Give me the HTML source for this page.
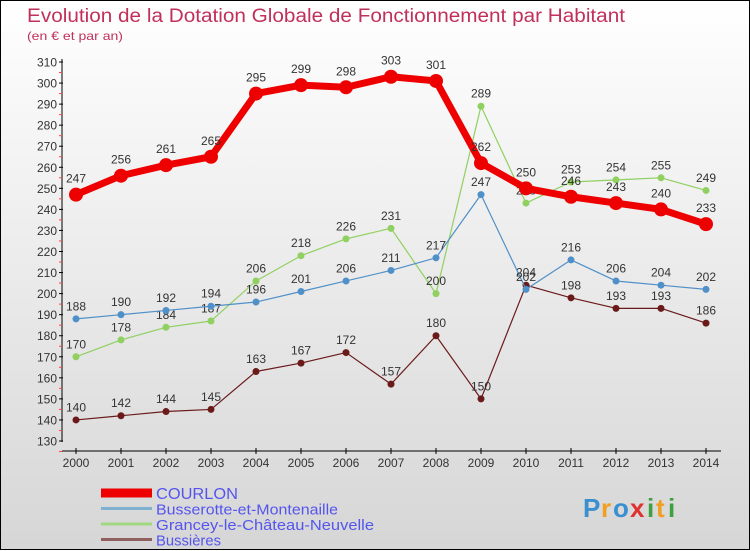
<!DOCTYPE html>
<html><head><meta charset="utf-8"><style>
html,body{margin:0;padding:0}
body{width:750px;height:550px;overflow:hidden;font-family:"Liberation Sans",sans-serif}
#wrap{position:relative;width:748px;height:548px;border:1px solid #000;background:linear-gradient(#ffffff,#d6d6d6)}
svg{position:absolute;left:0;top:0}
</style></head><body>
<div id="wrap">
<svg id="chart" width="750" height="550">
<text x="26" y="21" font-size="19" fill="#c0305a" textLength="598" lengthAdjust="spacingAndGlyphs">Evolution de la Dotation Globale de Fonctionnement par Habitant</text>
<text x="26" y="39" font-size="12" fill="#c0305a" textLength="96" lengthAdjust="spacingAndGlyphs">(en € et par an)</text>
<g id="axes"></g><g id="series"></g><g id="legend"></g>
<g font-size="26" font-weight="bold">
<text x="582" y="516" fill="#3a8fd0">P</text><text x="600" y="516" fill="#f0a020">r</text><text x="612" y="516" fill="#3a8fd0">o</text><text x="629" y="516" fill="#e03030">x</text><text x="646" y="516" fill="#40a040">i</text><text x="655" y="516" fill="#f0a020">t</text><text x="667" y="516" fill="#40a040">i</text>
</g>
</svg>
</div>
<script>
const years=[2000,2001,2002,2003,2004,2005,2006,2007,2008,2009,2010,2011,2012,2013,2014];
const yTicks=[130,140,150,160,170,180,190,200,210,220,230,240,250,260,270,280,290,300,310];
const seriesNames=["COURLON","Busserotte-et-Montenaille","Grancey-le-Château-Neuvelle","Bussières"];
const courlon=[247,256,261,265,295,299,298,303,301,262,250,246,243,240,233];
const busserotte=[188,190,192,194,196,201,206,211,217,247,202,216,206,204,202];
const grancey=[170,178,184,187,206,218,226,231,200,289,243,253,254,255,249];
const bussieres=[140,142,144,145,163,167,172,157,180,150,204,198,193,193,186];
const NS="http://www.w3.org/2000/svg";
const xS=i=>75+i*45;
const yS=v=>440-(v-130)*(379/180);
function mk(tag,attrs,parent){const e=document.createElementNS(NS,tag);for(const k in attrs)e.setAttribute(k,attrs[k]);parent.appendChild(e);return e;}
const ax=document.getElementById('axes');
let l=mk('line',{x1:61,y1:58,x2:61,y2:441,stroke:'#000','stroke-width':1},ax);


l=mk('line',{x1:61,y1:450,x2:720,y2:450,stroke:'#000','stroke-width':1},ax);


yTicks.forEach(v=>{
  const y=yS(v);
  mk('line',{x1:58,y1:y,x2:62,y2:y,stroke:'#000'},ax);
  mk('line',{x1:58,y1:y+10.5,x2:61,y2:y+10.5,stroke:'#f44'},ax);
  const t=mk('text',{x:56,y:y+4.5,'font-size':12,fill:'#333','text-anchor':'end'},ax);
  t.textContent=v;
  
  
});
years.forEach((yr,i)=>{
  const x=xS(i);
  mk('line',{x1:x,y1:447,x2:x,y2:453,stroke:'#000'},ax);
  const t=mk('text',{x:x,y:466,'font-size':12,fill:'#333','text-anchor':'middle'},ax);
  t.textContent=yr;
  
  
});
const sg=document.getElementById('series');
const defs=[
 {d:bussieres,c:'#6b1a1a',w:1.2,r:3.5,name:'series-bussieres'},
 {d:grancey,c:'#90d060',w:1.2,r:3.5,name:'series-grancey'},
 {d:busserotte,c:'#5090c8',w:1.2,r:3.5,name:'series-busserotte'},
 {d:courlon,c:'#ee0000',w:7,r:7,name:'series-courlon'}
];
defs.forEach(s=>{
  const g=mk('g',{},sg);
  
  
  const pts=s.d.map((v,i)=>xS(i)+','+yS(v)).join(' ');
  const pl=mk('polyline',{points:pts,fill:'none',stroke:s.c,'stroke-width':s.w,'stroke-linejoin':'round'},g);
  
  
  s.d.forEach((v,i)=>{
    const c=mk('circle',{cx:xS(i),cy:yS(v),r:s.r,fill:s.c},g);
    
    
    const t=mk('text',{x:xS(i),y:yS(v)-(s.r+5),'font-size':12,fill:'#333','text-anchor':'middle'},g);
    t.textContent=v;
    
    
  });
});
const lg=document.getElementById('legend');
const lc=['#ee0000','#80b0d0','#a0d880','#906060'];const lw=[9,3,3,3];
const legLen=[82,182,218,65];
seriesNames.forEach((n,i)=>{
  const y=492+i*15.5;
  const g=mk('g',{},lg);
  
  
  mk('line',{x1:100,y1:y,x2:151,y2:y,stroke:lc[i],'stroke-width':lw[i]},g);
  const t=mk('text',{x:155,y:y+6,'font-size':i==0?16:15,fill:'#5555ee',textLength:legLen[i],lengthAdjust:'spacingAndGlyphs'},g);
  t.textContent=n;
});
</script>
</body></html>
